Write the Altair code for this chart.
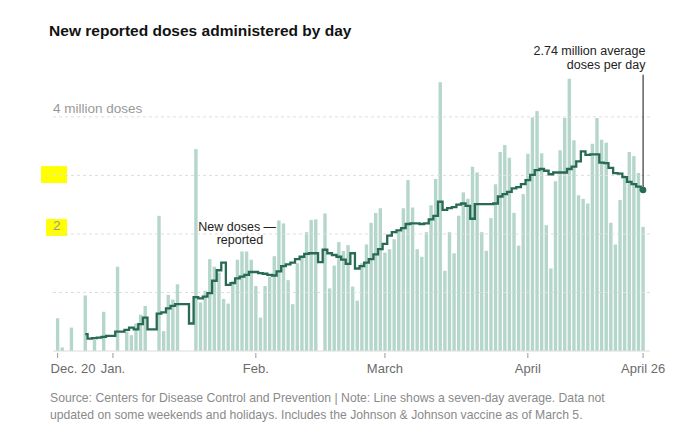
import altair as alt
import pandas as pd

# ---------------- data ----------------
dates = pd.date_range("2020-12-20", "2021-04-26", freq="D").strftime("%Y-%m-%d").tolist()

# daily reported doses, millions (None = no report that day)
doses = [
    0.56, 0.06, None, 0.40, None, None, 0.95, None, 0.19, None,   # Dec 20-29
    0.67, None, None, 1.44, None, 0.33, 0.27, 0.47, 0.62, 0.77,   # Dec 30 - Jan 8
    None, None, 2.31, 0.34, 0.96, 0.88, 1.14, None, None, None,   # Jan 9-18
    3.45, 0.83, 1.03, 1.57, 1.44, 1.34, 0.89, 0.81, 1.20, 1.56,   # Jan 19-28
    1.70, 1.70, 1.56, 1.11, 0.57, 1.11, 1.27, 1.62, 2.23, 2.18,   # Jan 29 - Feb 7
    1.21, 0.80, 1.50, 1.60, 2.03, 2.24, 2.25, None, 2.35, 1.07,   # Feb 8-17
    1.46, 1.86, 1.71, 1.81, 1.10, 0.86, 1.50, 1.82, 2.19, 2.36,   # Feb 18-27
    2.44, 1.68, 1.74, 1.91, 2.04, 2.44, 2.92, 2.45, 1.74, 1.61,   # Feb 28 - Mar 9
    2.03, 2.49, 2.94, 4.59, 1.37, 2.03, 1.67, 2.31, 2.71, 2.60,   # Mar 10-19
    3.15, 3.05, 2.03, 1.71, 2.27, 2.85, 3.40, 3.52, 3.30, 2.36,   # Mar 20-29
    1.80, 2.68, 3.37, 3.99, 4.10, 3.38, 2.15, 1.41, 2.90, 3.43,   # Mar 30 - Apr 8
    3.98, 4.65, 3.60, 2.66, 2.60, 2.52, 3.54, 3.98, 3.61, 3.56,   # Apr 9-18
    2.19, 1.82, 2.58, 2.95, 3.40, 3.33, 3.04, 2.12,               # Apr 19-26
]

# seven-day average as drawn (millions)
avg = [None] * 6 + [
    0.29, 0.21, 0.22, 0.23,                                        # Dec 26-29
    0.24, 0.26, 0.26, 0.33, 0.33, 0.36, 0.40, 0.37, 0.46, 0.57,    # Dec 30 - Jan 8
    0.37, 0.37, 0.64, 0.66, 0.73, 0.77, 0.80, 0.80, 0.80, 0.47,    # Jan 9-18
    0.92, 0.90, 0.93, 0.99, 1.20, 1.38, 1.51, 1.13, 1.16, 1.24,    # Jan 19-28
    1.27, 1.30, 1.35, 1.35, 1.33, 1.32, 1.30, 1.29, 1.36, 1.45,    # Jan 29 - Feb 7
    1.48, 1.51, 1.57, 1.61, 1.66, 1.67, 1.67, 1.52, 1.73, 1.67,    # Feb 8-17
    1.64, 1.61, 1.56, 1.49, 1.67, 1.41, 1.45, 1.51, 1.57, 1.65,    # Feb 18-27
    1.74, 1.83, 1.97, 2.03, 2.06, 2.10, 2.17, 2.18, 2.18, 2.17,    # Feb 28 - Mar 9
    2.18, 2.25, 2.31, 2.55, 2.41, 2.44, 2.46, 2.50, 2.52, 2.48,    # Mar 10-19
    2.26, 2.51, 2.51, 2.51, 2.51, 2.52, 2.64, 2.68, 2.72, 2.78,    # Mar 20-29
    2.80, 2.85, 2.92, 3.01, 3.09, 3.11, 3.08, 3.02, 3.05, 3.05,    # Mar 30 - Apr 8
    3.05, 3.11, 3.15, 3.24, 3.41, 3.35, 3.36, 3.36, 3.22, 3.21,    # Apr 9-18
    3.13, 3.04, 3.03, 2.97, 2.89, 2.85, 2.81, 2.75,                # Apr 19-26
]

tick_days = [0, 12, 43, 71, 102, 127]
tick_labels = ["Dec. 20", "Jan.", "Feb.", "March", "April", "April 26"]

grid_values = [1, 2, 3, 4]
y_label_values = [4, 2]
y_label_texts = ["4 million doses", "2"]

title_text = "New reported doses administered by day"
avg_note = ["2.74 million average", "doses per day"]
source_lines = [
    "Source: Centers for Disease Control and Prevention | Note: Line shows a seven-day average. Data not",
    "updated on some weekends and holidays. Includes the Johnson & Johnson vaccine as of March 5.",
]

# ---------------- chart ----------------
FONT = "Liberation Sans"
W, H = 597, 278
BAR = "#b5d6cb"
LINE = "#286a56"
XMIN, XMAX = -1, 128.5

df = pd.DataFrame({"day": list(range(len(dates))), "date": dates, "doses": doses, "avg": avg})
ticks_df = pd.DataFrame({"day": tick_days, "label": tick_labels})

xscale = alt.Scale(domain=[XMIN, XMAX], nice=False, zero=False, padding=0)
yscale = alt.Scale(domain=[0, 4.75], nice=False, zero=True, padding=0)


def X(field):
    return alt.X(field, type="quantitative", scale=xscale, axis=None, title=None)


def Y(field):
    return alt.Y(field, type="quantitative", scale=yscale, axis=None, title=None)


yellow = alt.Chart(pd.DataFrame({
    "xa": [-3.6, -2.5], "xb": [2.05, 2.05], "ya": [3.16, 2.255], "yb": [2.87, 1.965]
})).mark_rect(color="#ffff00").encode(
    x=X("xa"), x2=alt.X2("xb"), y=Y("ya"), y2=alt.Y2("yb"),
)

bars = alt.Chart(df).mark_bar(size=3.4, color=BAR).encode(x=X("day"), y=Y("doses"))

baseline = alt.Chart(pd.DataFrame({"a": [XMIN], "b": [XMAX], "v": [0]})).mark_rule(
    color="#dcdcdc", strokeWidth=1
).encode(x=X("a"), x2=alt.X2("b"), y=Y("v"))

ticks = alt.Chart(ticks_df).mark_rule(color="#9a9a9a", strokeWidth=1).encode(
    x=X("day"), y=alt.value(H + 2), y2=alt.value(H + 7)
)

xlab_first = alt.Chart(ticks_df.head(1)).mark_text(
    align="left", baseline="alphabetic", dx=-7, font=FONT, fontSize=13, color="#6b6b6b"
).encode(x=X("day"), y=alt.value(H + 22), text="label:N")
xlab_rest = alt.Chart(ticks_df.iloc[1:]).mark_text(
    align="center", baseline="alphabetic", font=FONT, fontSize=13, color="#6b6b6b"
).encode(x=X("day"), y=alt.value(H + 22), text="label:N")

grid = alt.Chart(pd.DataFrame({"v": grid_values, "a": XMIN, "b": XMAX})).mark_rule(
    color="#dedede", strokeDash=[3, 3], strokeWidth=1
).encode(y=Y("v"), x=X("a"), x2=alt.X2("b"))

ylabels = alt.Chart(pd.DataFrame({"v": y_label_values, "t": y_label_texts, "a": XMIN})).mark_text(
    align="left", baseline="alphabetic", dy=-4, font=FONT, fontSize=13.5, color="#999999"
).encode(y=Y("v"), x=X("a"), text="t:N")

avg_df = df.dropna(subset=["avg"])
line = alt.Chart(avg_df).mark_line(interpolate="step", color=LINE, strokeWidth=2.3).encode(
    x=X("day"), y=Y("avg")
)

last = avg_df.tail(1).assign(top=4.72)
pointer = alt.Chart(last).mark_rule(color="#111111", strokeWidth=1).encode(
    x=X("day"), y=Y("avg"), y2=alt.Y2("top")
)
dot = alt.Chart(last).mark_circle(size=42, color=LINE, opacity=1).encode(x=X("day"), y=Y("avg"))

note = alt.Chart(pd.DataFrame({"t": avg_note, "x": [127.5, 127.5], "y": [5.06, 4.82]})).mark_text(
    align="right", baseline="alphabetic", font=FONT, fontSize=12.5, color="#222222"
).encode(x=X("x"), y=Y("y"), text="t:N")

ann = alt.Chart(pd.DataFrame({"t": ["New doses \u2014", "reported"],
                              "x": [47.4, 44.6], "y": [2.05, 1.82]})).mark_text(
    align="right", baseline="alphabetic", font=FONT, fontSize=12.5, color="#222222"
).encode(x=X("x"), y=Y("y"), text="t:N")

source = alt.Chart(pd.DataFrame({"t": source_lines, "x": [XMIN - 0.65] * 2, "y": [-0.87, -1.16]})).mark_text(
    align="left", baseline="alphabetic", font=FONT, fontSize=12.2, color="#8a8a8a"
).encode(x=X("x"), y=Y("y"), text="t:N")

title = alt.Chart(pd.DataFrame({"t": [title_text], "x": [XMIN - 0.85], "y": [5.375]})).mark_text(
    align="left", baseline="alphabetic", font=FONT, fontSize=15.5, fontWeight="bold", color="#121212"
).encode(x=X("x"), y=Y("y"), text="t:N")

chart = alt.layer(
    yellow, bars, baseline, ticks, grid, ylabels, line, pointer, dot, note, ann,
    xlab_first, xlab_rest, source, title
).properties(
    width=W, height=H,
    autosize=alt.AutoSizeParams(type="none"),
    padding={"left": 45, "top": 65, "right": 32, "bottom": 78},
).configure_view(stroke=None)

chart.save("out.html", embed_options={"renderer": "svg", "actions": False})
